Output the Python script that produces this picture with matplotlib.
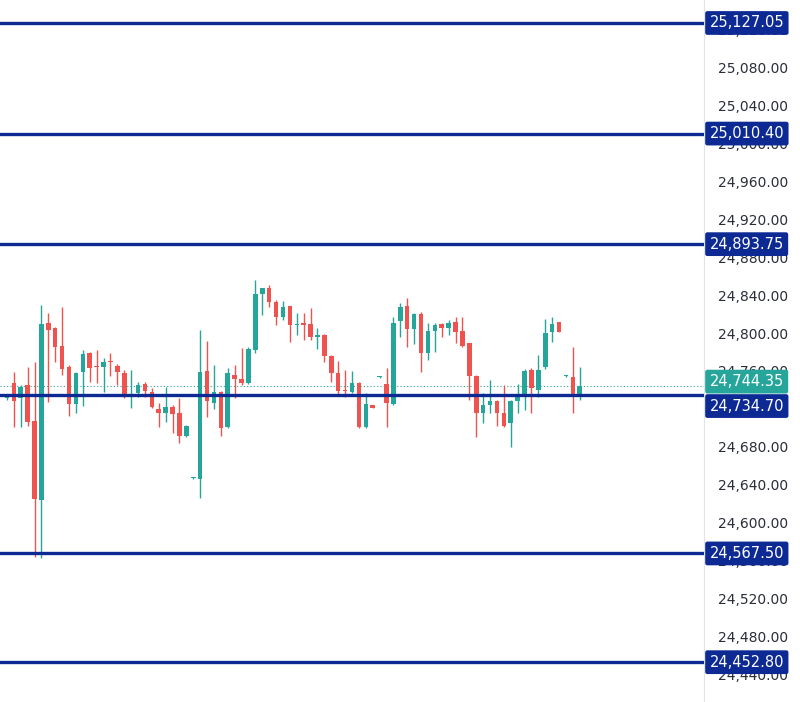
import matplotlib

matplotlib.use("Agg")
import matplotlib.pyplot as plt
from matplotlib.transforms import blended_transform_factory

# candles (open, high, low, close)
opens = [24731, 24747, 24731, 24745, 24707, 24624, 24811, 24805, 24786, 24764,
         24725, 24759, 24779, 24765, 24764, 24770, 24765, 24758, 24735, 24737,
         24746, 24738, 24720, 24716, 24722, 24716, 24691, 24647, 24646, 24760,
         24726, 24738, 24701, 24756, 24751, 24747, 24782, 24841, 24848, 24833,
         24817, 24828, 24808, 24811, 24810, 24796, 24798, 24776, 24758, 24740,
         24738, 24747, 24701, 24724, 24754, 24746, 24725, 24813, 24828, 24804,
         24820, 24779, 24802, 24810, 24805, 24812, 24802, 24789, 24755, 24716,
         24724, 24728, 24716, 24705, 24728, 24735, 24761, 24740, 24764, 24801,
         24812, 24755, 24754, 24732]
highs = [24734, 24759, 24745, 24764, 24769, 24830, 24821, 24806, 24827, 24766,
         24759, 24782, 24780, 24782, 24774, 24779, 24767, 24761, 24761, 24748,
         24748, 24742, 24726, 24743, 24724, 24731, 24703, 24648, 24803, 24792,
         24766, 24739, 24763, 24766, 24784, 24785, 24856, 24848, 24851, 24835,
         24834, 24829, 24821, 24821, 24826, 24805, 24799, 24777, 24770, 24761,
         24760, 24748, 24737, 24724, 24755, 24763, 24817, 24832, 24837, 24821,
         24822, 24811, 24811, 24811, 24814, 24817, 24817, 24790, 24756, 24737,
         24750, 24729, 24745, 24729, 24746, 24762, 24763, 24777, 24815, 24817,
         24812, 24756, 24785, 24764]
lows = [24729, 24701, 24701, 24702, 24564, 24563, 24727, 24769, 24756, 24712,
        24716, 24723, 24748, 24747, 24738, 24755, 24745, 24731, 24721, 24732,
        24732, 24721, 24701, 24706, 24695, 24684, 24690, 24646, 24626, 24711,
        24720, 24691, 24700, 24731, 24745, 24746, 24779, 24819, 24827, 24809,
        24814, 24791, 24798, 24793, 24793, 24783, 24769, 24748, 24735, 24732,
        24737, 24700, 24700, 24721, 24753, 24701, 24724, 24796, 24785, 24788,
        24759, 24772, 24780, 24796, 24798, 24790, 24785, 24729, 24690, 24705,
        24716, 24702, 24701, 24680, 24716, 24719, 24716, 24732, 24762, 24791,
        24801, 24754, 24716, 24729]
closes = [24732, 24728, 24743, 24706, 24625, 24810, 24803, 24785, 24762, 24725,
          24758, 24778, 24763, 24764, 24769, 24769, 24759, 24735, 24736, 24745,
          24739, 24722, 24716, 24722, 24715, 24691, 24702, 24648, 24759, 24728,
          24738, 24700, 24758, 24751, 24747, 24783, 24841, 24847, 24833, 24817,
          24827, 24809, 24809, 24809, 24796, 24798, 24776, 24758, 24739, 24739,
          24747, 24701, 24725, 24721, 24755, 24726, 24811, 24827, 24804, 24820,
          24779, 24802, 24808, 24805, 24811, 24801, 24786, 24755, 24716, 24724,
          24728, 24716, 24702, 24728, 24734, 24760, 24742, 24761, 24800, 24810,
          24801, 24756, 24732, 24744.35]

level_prices = [25127.05, 25010.40, 24893.75, 24734.70, 24567.50, 24452.80]
last_price = 24744.35

UP = "#26a69a"
DOWN = "#ef5350"
NAVY = "#0d2a94"

fig = plt.figure(figsize=(8.0, 7.02), dpi=100)
ax = fig.add_axes([0, 0, 704 / 800, 1])

for i, (o, h, l, c) in enumerate(zip(opens, highs, lows, closes)):
    color = UP if c >= o else DOWN
    ax.vlines(i, l, h, color=color, linewidth=1.0, zorder=3)
    lo, hi = min(o, c), max(o, c)
    ax.bar(i, max(hi - lo, 1.2), bottom=lo, width=0.66, color=color, zorder=4)

ax.axhline(last_price, color=UP, linestyle=(0, (1, 2)), linewidth=0.8, zorder=2)
for p in level_prices:
    ax.axhline(p, color=NAVY, linewidth=2.4, zorder=5)

ax.set_xlim(-1.0, 101.0)
ax.set_ylim(24410.8, 25151.3)
ax.set_xticks([])
ax.set_yticks(range(24440, 25121, 40))
ax.yaxis.tick_right()
ax.yaxis.set_major_formatter(matplotlib.ticker.FuncFormatter(lambda v, _: f"{v:,.2f}"))
ax.tick_params(axis="y", length=0, pad=10, labelsize=10, labelcolor="#2a2e39")
for s in ("top", "left", "bottom"):
    ax.spines[s].set_visible(False)
ax.spines["right"].set_color("#e0e3eb")

trans = blended_transform_factory(ax.transAxes, ax.transData)
# price-scale labels; the two close ones get pushed apart like on the source chart
shifts = {last_price: 3, 24734.70: -8}
for p in level_prices + [last_price]:
    face = UP if p == last_price else NAVY
    ax.annotate(f"{p:,.2f}", xy=(1.0, p), xycoords=trans,
                xytext=(4, shifts.get(p, 0)), textcoords="offset points",
                ha="left", va="center", fontsize=10.5, color="white",
                annotation_clip=False, zorder=10,
                bbox=dict(boxstyle="round,pad=0.3,rounding_size=0.15", facecolor=face, edgecolor="none"))

fig.savefig("out.png", dpi=100)
